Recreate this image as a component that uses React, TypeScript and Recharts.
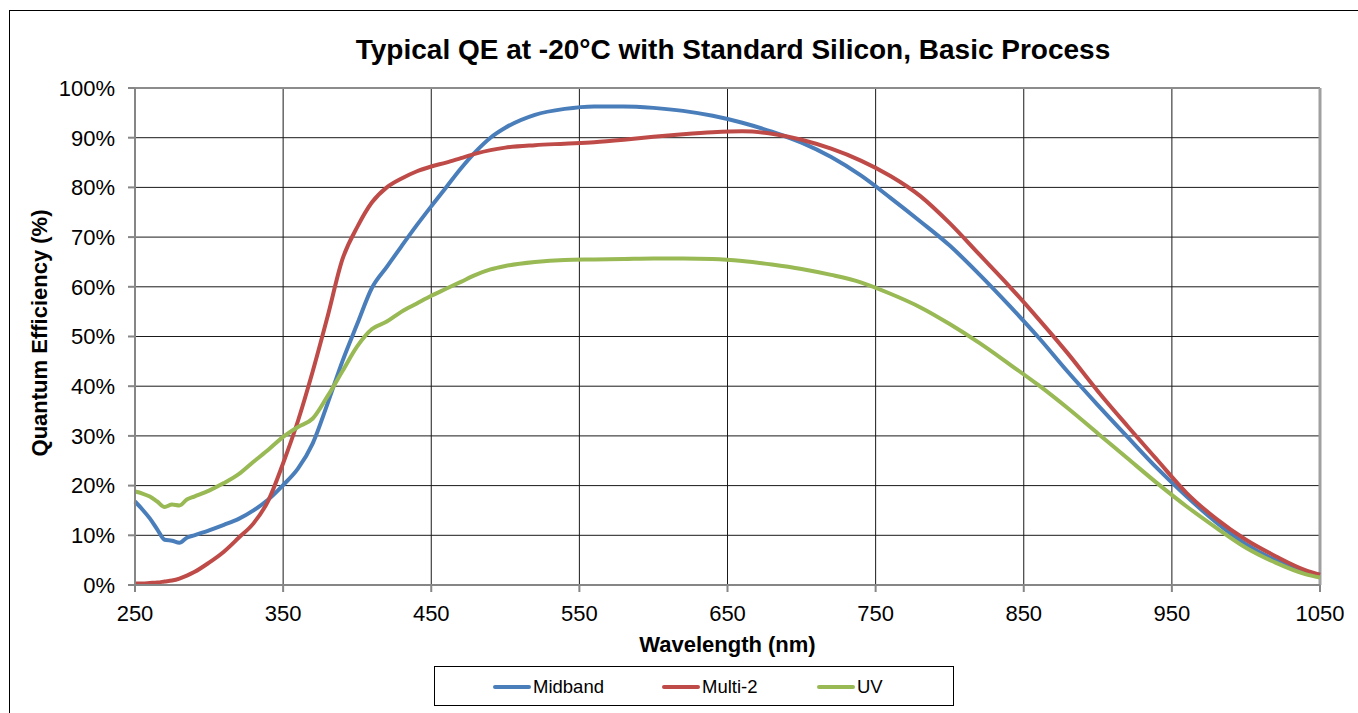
import { LineChart, Line, XAxis, YAxis, CartesianGrid, ReferenceLine } from "recharts";

const FONT = '"Liberation Sans", Arial, sans-serif';

const wavelengths = [
  250, 255, 260, 265, 270, 275, 280, 285, 290, 300, 310, 320, 330, 340, 350, 360, 370, 380, 390, 400,
  410, 420, 430, 440, 450, 460, 470, 480, 490, 500, 520, 540, 560, 580, 600, 620, 640, 660, 680, 700,
  720, 740, 760, 780, 800, 820, 840, 860, 880, 900, 920, 940, 960, 980, 1000, 1020, 1040, 1050,
];

const midband = [
  16.8, 15.2, 13.4, 11.2, 9.1, 8.9, 8.5, 9.5, 10.0, 11.0, 12.1, 13.3, 15.0, 17.2, 20.1, 23.4, 28.5, 36.5, 45.0, 52.5,
  59.8, 64.0, 68.2, 72.3, 76.2, 80.0, 83.8, 87.2, 90.0, 92.0, 94.6, 95.8, 96.3, 96.3, 96.0, 95.4, 94.4, 93.0, 91.2, 89.0,
  86.1, 82.4, 77.9, 73.2, 68.3, 62.5, 56.3, 49.8, 42.8, 36.2, 29.8, 23.5, 17.8, 12.6, 8.2, 5.0, 2.8, 2.0,
];

const multi2 = [
  0.3, 0.3, 0.4, 0.5, 0.7, 0.9, 1.3, 1.9, 2.6, 4.5, 6.7, 9.5, 12.4, 17.0, 24.5, 33.0, 43.0, 54.0, 65.5, 72.0,
  77.0, 80.0, 81.8, 83.2, 84.2, 85.0, 85.9, 86.8, 87.5, 88.0, 88.5, 88.8, 89.1, 89.6, 90.2, 90.7, 91.1, 91.3, 90.8, 89.6,
  87.8, 85.4, 82.3, 78.3, 72.8, 66.5, 60.2, 53.5, 46.5, 39.0, 32.0, 25.2, 18.5, 13.3, 9.1, 5.8, 3.0, 2.1,
];

const uv = [
  18.8, 18.4, 17.8, 16.8, 15.7, 16.2, 16.0, 17.2, 17.8, 19.0, 20.5, 22.3, 24.8, 27.2, 29.8, 31.8, 33.5, 38.0, 43.0, 48.0,
  51.5, 53.0, 55.0, 56.6, 58.2, 59.6, 61.0, 62.4, 63.5, 64.2, 65.0, 65.4, 65.5, 65.6, 65.7, 65.7, 65.6, 65.2, 64.5, 63.6,
  62.4, 60.9, 58.6, 55.9, 52.5, 48.7, 44.5, 40.2, 35.5, 30.5, 25.5, 20.5, 15.8, 11.5, 7.5, 4.5, 2.2, 1.5,
];

const xTicks = [250, 350, 450, 550, 650, 750, 850, 950, 1050];
const yTicks = [0, 10, 20, 30, 40, 50, 60, 70, 80, 90, 100];

const series = [
  { key: "midband", name: "Midband", color: "#4a7ebb" },
  { key: "multi2", name: "Multi-2", color: "#be4b48" },
  { key: "uv", name: "UV", color: "#98b954" },
];

const data = wavelengths.map((nm, i) => ({ nm, midband: midband[i], multi2: multi2[i], uv: uv[i] }));

// legend drawn as a plain box under the chart, like the Excel original
function LegendBox() {
  const lefts = [58, 227, 382];
  return (
    <div style={{ position: "absolute", left: 434, top: 666, width: 520, height: 40, border: "1px solid #000", boxSizing: "border-box", background: "#fff" }}>
      {series.map((s, i) => (
        <div key={s.key} style={{ position: "absolute", left: lefts[i], top: 9, height: 22, display: "flex", alignItems: "center" }}>
          <div style={{ width: 38, height: 4, borderRadius: 2, background: s.color }} />
          <span style={{ fontFamily: FONT, fontSize: 18.5, color: "#000", marginLeft: 2 }}>{s.name}</span>
        </div>
      ))}
    </div>
  );
}

export default function App() {
  return (
    <div style={{ position: "fixed", left: 0, top: 0, width: 1358, height: 713, overflow: "hidden", background: "#fff" }}>
      <div style={{ position: "absolute", left: 9, top: 10, width: 1400, height: 800, border: "1.5px solid #000" }} />
      <div style={{ position: "absolute", left: 0, top: 34, width: 1466, textAlign: "center", fontFamily: FONT, fontWeight: "bold", fontSize: 28, color: "#000" }}>
        Typical QE at -20°C with Standard Silicon, Basic Process
      </div>
      <div style={{ position: "absolute", left: 0, top: 632, width: 1455, textAlign: "center", fontFamily: FONT, fontWeight: "bold", fontSize: 22, color: "#000" }}>
        Wavelength (nm)
      </div>
      <div style={{ position: "absolute", left: 40, top: 333, transform: "translate(-50%, -50%) rotate(-90deg)", whiteSpace: "nowrap", fontFamily: FONT, fontWeight: "bold", fontSize: 22, color: "#000" }}>
        Quantum Efficiency (%)
      </div>
      <div style={{ position: "absolute", left: 0, top: 0 }}>
        <LineChart width={1358} height={713} data={data} margin={{ top: 88, right: 38, bottom: 68, left: 0 }}>
          <CartesianGrid stroke="#1a1a1a" strokeWidth={1} horizontalValues={yTicks} verticalValues={xTicks} />
          <XAxis
            dataKey="nm"
            type="number"
            domain={[250, 1050]}
            ticks={xTicks}
            height={60}
            stroke="#868686"
            strokeWidth={2}
            tickSize={7}
            tickMargin={13}
            tick={{ fill: "#000", fontSize: 22, fontFamily: FONT }}
          />
          <YAxis
            type="number"
            domain={[0, 100]}
            ticks={yTicks}
            width={135}
            stroke="#868686"
            strokeWidth={2}
            tickSize={7}
            tickMargin={13}
            tickFormatter={(v) => `${v}%`}
            tick={{ fill: "#000", fontSize: 22, fontFamily: FONT }}
          />
          <ReferenceLine y={100} stroke="#8c8c8c" strokeWidth={2} />
          <ReferenceLine x={1050} stroke="#a0a0a0" strokeWidth={3} />
          {series.map((s) => (
            <Line
              key={s.key}
              type="monotone"
              dataKey={s.key}
              name={s.name}
              stroke={s.color}
              strokeWidth={4}
              dot={false}
              activeDot={false}
              isAnimationActive={false}
            />
          ))}
        </LineChart>
      </div>
      <LegendBox />
    </div>
  );
}
